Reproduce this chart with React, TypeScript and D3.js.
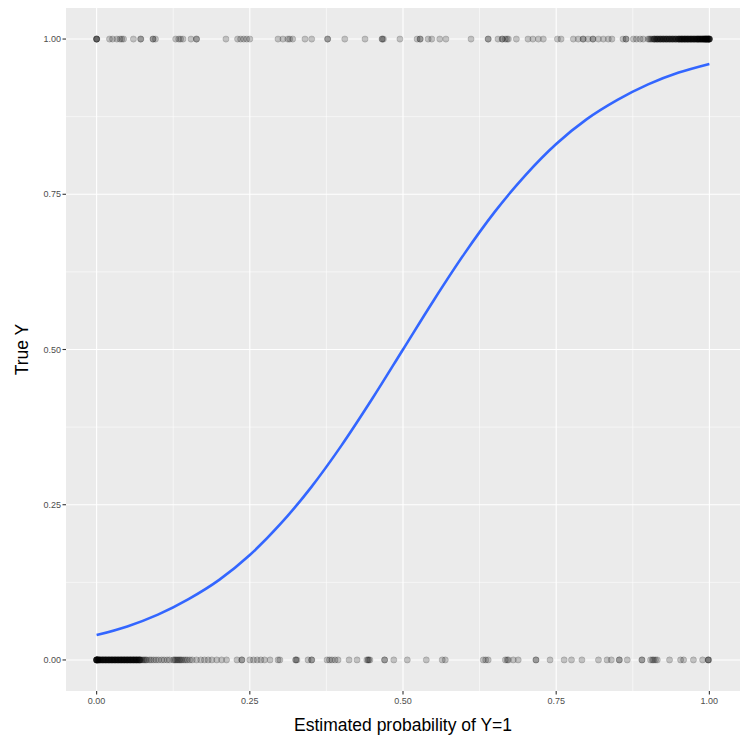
import React from "react";
import * as d3 from "d3";

const xTickValues = [0, 0.25, 0.5, 0.75, 1];
const xTickLabels = ["0.00", "0.25", "0.50", "0.75", "1.00"];
const yTickValues = [0, 0.25, 0.5, 0.75, 1];
const yTickLabels = ["0.00", "0.25", "0.50", "0.75", "1.00"];
const minorTicks = [0.125, 0.375, 0.625, 0.875];

const xTitle = "Estimated probability of Y=1";
const yTitle = "True Y";

// Estimated probabilities for observations with true Y = 1
const positives = [
  0, 0, 0, 0, 0.021, 0.026, 0.033, 0.038, 0.041, 0.044, 0.06, 0.072, 0.072,
  0.092, 0.092, 0.096, 0.129, 0.134, 0.137, 0.141, 0.154, 0.163, 0.163, 0.211,
  0.23, 0.235, 0.24, 0.245, 0.25, 0.296, 0.304, 0.312, 0.315, 0.32, 0.34, 0.351,
  0.377, 0.377, 0.405, 0.438, 0.466, 0.466, 0.468, 0.495, 0.523, 0.528, 0.528,
  0.541, 0.547, 0.56, 0.57, 0.611, 0.639, 0.639, 0.655, 0.662, 0.662, 0.67,
  0.667, 0.672, 0.685, 0.704, 0.712, 0.721, 0.729, 0.752, 0.758, 0.778, 0.786,
  0.794, 0.794, 0.802, 0.81, 0.81, 0.819, 0.827, 0.835, 0.841, 0.859, 0.864,
  0.864, 0.876, 0.881, 0.887, 0.892, 0.9, 0.902, 0.904, 0.906, 0.908, 0.91,
  0.911, 0.913, 0.914, 0.916, 0.917, 0.919, 0.92, 0.922, 0.923, 0.925, 0.926,
  0.928, 0.929, 0.931, 0.932, 0.934, 0.935, 0.937, 0.938, 0.94, 0.941, 0.943,
  0.944, 0.946, 0.947, 0.949, 0.95, 0.951, 0.952, 0.953, 0.954, 0.955, 0.956,
  0.957, 0.958, 0.959, 0.96, 0.961, 0.962, 0.963, 0.964, 0.965, 0.966, 0.967,
  0.968, 0.969, 0.97, 0.971, 0.972, 0.973, 0.974, 0.975, 0.976, 0.977, 0.978,
  0.979, 0.98, 0.981, 0.982, 0.983, 0.984, 0.985, 0.986, 0.987, 0.988, 0.989,
  0.99, 0.991, 0.992, 0.993, 0.994, 0.995, 0.996, 0.997, 0.998, 0.999, 1, 1,
  1, 1, 0.999, 0.998, 0.997, 0.996, 0.995, 0.994, 0.993, 0.992, 0.99, 0.988,
  0.985, 0.982, 0.98, 0.975, 0.97, 0.965, 0.96, 0.955, 0.95, 0.945, 0.94,
  0.935, 0.93, 0.925, 0.92, 0.915, 0.91,
];

// Estimated probabilities for observations with true Y = 0
const negatives = [
  0, 0, 0, 0, 0, 0, 0.001, 0.001, 0.002, 0.002, 0.003, 0.003, 0.004, 0.005,
  0.006, 0.007, 0.008, 0.009, 0.01, 0.011, 0.012, 0.013, 0.014, 0.015, 0.016,
  0.017, 0.018, 0.019, 0.02, 0.021, 0.022, 0.023, 0.024, 0.025, 0.026, 0.027,
  0.028, 0.029, 0.03, 0.031, 0.032, 0.033, 0.034, 0.035, 0.036, 0.037, 0.038,
  0.039, 0.04, 0.041, 0.042, 0.043, 0.044, 0.045, 0.046, 0.047, 0.048, 0.049,
  0.05, 0.051, 0.052, 0.053, 0.054, 0.055, 0.056, 0.057, 0.058, 0.059, 0.06,
  0.061, 0.062, 0.063, 0.064, 0.065, 0.066, 0.067, 0.068, 0.069, 0.07, 0.071,
  0.072, 0.005, 0.01, 0.015, 0.02, 0.025, 0.03, 0.035, 0.04, 0.045, 0.05,
  0.055, 0.06, 0.065, 0.07, 0.074, 0.076, 0.078, 0.08, 0.082, 0.086, 0.089,
  0.093, 0.097, 0.101, 0.106, 0.11, 0.115, 0.119, 0.125, 0.127, 0.129, 0.131,
  0.133, 0.135, 0.137, 0.139, 0.142, 0.145, 0.148, 0.152, 0.156, 0.163, 0.17,
  0.176, 0.182, 0.188, 0.196, 0.204, 0.212, 0.229, 0.237, 0.237, 0.25, 0.256,
  0.262, 0.268, 0.274, 0.283, 0.296, 0.299, 0.325, 0.325, 0.327, 0.345, 0.351,
  0.351, 0.376, 0.38, 0.384, 0.389, 0.394, 0.412, 0.425, 0.441, 0.443, 0.444,
  0.446, 0.47, 0.47, 0.485, 0.507, 0.538, 0.564, 0.569, 0.631, 0.635, 0.639,
  0.667, 0.67, 0.672, 0.68, 0.688, 0.717, 0.717, 0.74, 0.763, 0.775, 0.792,
  0.819, 0.833, 0.84, 0.853, 0.853, 0.866, 0.89, 0.89, 0.904, 0.907, 0.909,
  0.912, 0.915, 0.935, 0.953, 0.958, 0.974, 0.989, 0.998, 0.998, 0.999,
];

// Fitted logistic curve
const curveX = [0, 0.05, 0.1, 0.15, 0.2, 0.25, 0.3, 0.35, 0.4, 0.45, 0.5, 0.55, 0.6, 0.65, 0.7, 0.75, 0.8, 0.85, 0.9, 0.95, 1];
const curveY = [0.04, 0.054, 0.073, 0.098, 0.129, 0.169, 0.219, 0.278, 0.346, 0.421, 0.5, 0.579, 0.654, 0.722, 0.781, 0.831, 0.871, 0.902, 0.927, 0.946, 0.96];

const W = 747;
const H = 751;
const panel = { left: 66, right: 740, top: 8, bottom: 691 };

export default function App() {
  const x = d3.scaleLinear().domain([-0.05, 1.05]).range([panel.left, panel.right]);
  const y = d3.scaleLinear().domain([-0.05, 1.05]).range([panel.bottom, panel.top]);

  const line = d3
    .line<number>()
    .x((_, i) => x(curveX[i]))
    .y((d) => y(d))
    .curve(d3.curveMonotoneX);

  const tickColor = "#333333";
  const labelColor = "#4D4D4D";
  const font = "'Liberation Sans', Arial, sans-serif";

  return (
    <div style={{ position: "absolute", left: 0, top: 0 }}>
      <svg width={W} height={H} style={{ display: "block", background: "white" }}>
        <rect
          x={panel.left}
          y={panel.top}
          width={panel.right - panel.left}
          height={panel.bottom - panel.top}
          fill="#EBEBEB"
        />
        {minorTicks.map((t) => (
          <g key={"m" + t}>
            <line x1={x(t)} x2={x(t)} y1={panel.top} y2={panel.bottom} stroke="white" strokeWidth={0.55} />
            <line x1={panel.left} x2={panel.right} y1={y(t)} y2={y(t)} stroke="white" strokeWidth={0.55} />
          </g>
        ))}
        {xTickValues.map((t) => (
          <line key={"gx" + t} x1={x(t)} x2={x(t)} y1={panel.top} y2={panel.bottom} stroke="white" strokeWidth={1.1} />
        ))}
        {yTickValues.map((t) => (
          <line key={"gy" + t} x1={panel.left} x2={panel.right} y1={y(t)} y2={y(t)} stroke="white" strokeWidth={1.1} />
        ))}
        <g>
          {positives.map((v, i) => (
            <circle key={"p" + i} cx={x(v)} cy={y(1)} r={3.1} fill="black" fillOpacity={0.2} stroke="black" strokeOpacity={0.2} strokeWidth={0.7} />
          ))}
          {negatives.map((v, i) => (
            <circle key={"n" + i} cx={x(v)} cy={y(0)} r={3.1} fill="black" fillOpacity={0.2} stroke="black" strokeOpacity={0.2} strokeWidth={0.7} />
          ))}
        </g>
        <path d={line(curveY) || ""} fill="none" stroke="#3366FF" strokeWidth={2.6} />
        {xTickValues.map((t, i) => (
          <g key={"xt" + t}>
            <line x1={x(t)} x2={x(t)} y1={panel.bottom} y2={panel.bottom + 3.5} stroke={tickColor} strokeWidth={1.1} />
            <text x={x(t)} y={panel.bottom + 13} textAnchor="middle" fontSize={9} fill={labelColor} fontFamily={font}>
              {xTickLabels[i]}
            </text>
          </g>
        ))}
        {yTickValues.map((t, i) => (
          <g key={"yt" + t}>
            <line x1={panel.left - 3.5} x2={panel.left} y1={y(t)} y2={y(t)} stroke={tickColor} strokeWidth={1.1} />
            <text x={panel.left - 5} y={y(t)} dy="0.35em" textAnchor="end" fontSize={9} fill={labelColor} fontFamily={font}>
              {yTickLabels[i]}
            </text>
          </g>
        ))}
        <text
          x={(panel.left + panel.right) / 2}
          y={731}
          textAnchor="middle"
          fontSize={17.5}
          fill="black"
          fontFamily={font}
        >
          {xTitle}
        </text>
        <text
          transform={`translate(28, ${(panel.top + panel.bottom) / 2}) rotate(-90)`}
          textAnchor="middle"
          fontSize={17.5}
          fill="black"
          fontFamily={font}
        >
          {yTitle}
        </text>
      </svg>
    </div>
  );
}
